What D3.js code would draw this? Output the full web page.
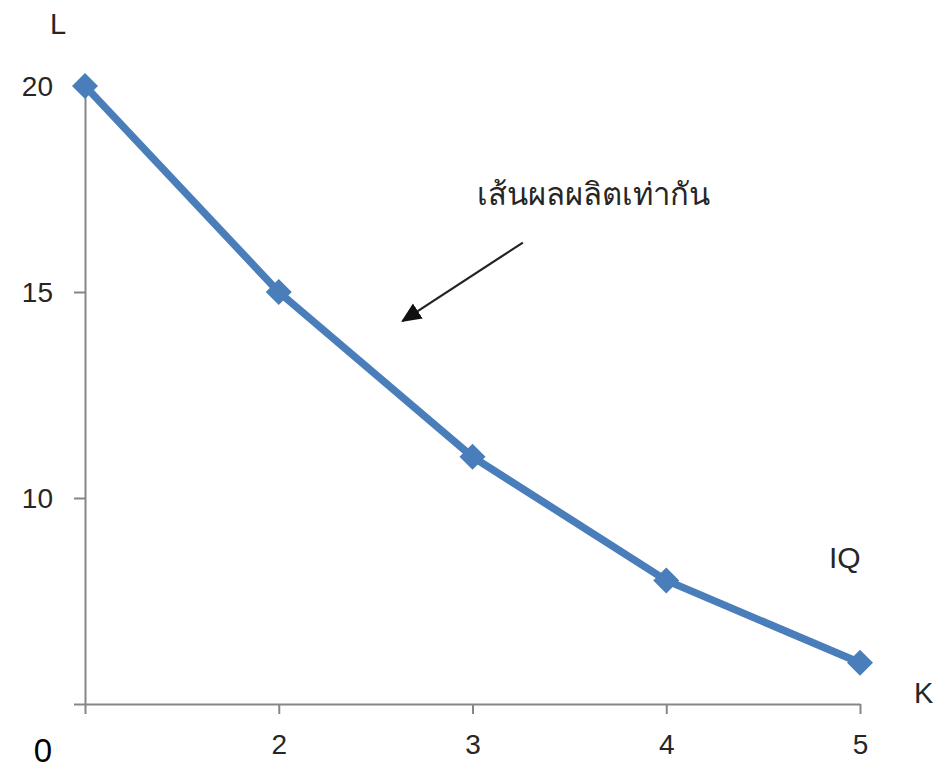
<!DOCTYPE html>
<html>
<head>
<meta charset="utf-8">
<script src="https://cdn.jsdelivr.net/npm/d3@7/dist/d3.min.js"></script>
<style>
  html, body { margin: 0; padding: 0; background: #ffffff; }
  svg { display: block; }
  text { font-family: "Liberation Sans", Arial, sans-serif; }
</style>
</head>
<body>
<svg id="chart" width="941" height="768"></svg>
<script>
// ---- data ----
const categories = [1, 2, 3, 4, 5];          // K
const values = [20, 15, 11, 8, 6];           // L
const xTickLabels = ["", "2", "3", "4", "5"];
const yTicks = [5, 10, 15, 20];
const yTickLabels = ["", "10", "15", "20"];
const curveLabel = "IQ";
const annotationText = "เส้นผลผลิตเท่ากัน";
const annotationArrowFrom = [3.26, 16.2];     // data coords (K, L)
const annotationArrowTo = [2.64, 14.3];
const curveLabelPos = [4.84, 8.3];

const svg = d3.select("#chart");
const x = d3.scaleLinear().domain([1, 5]).range([85, 860]);
const y = d3.scaleLinear().domain([5, 20]).range([704, 86]);

const axisColor = "#868686";
const labelColor = "#262626";

// x axis
const xAxis = svg.append("g").attr("transform", `translate(0,${y(5)})`)
  .call(d3.axisBottom(x).tickValues(categories)
    .tickFormat((d, i) => xTickLabels[i]).tickSize(10).tickSizeOuter(0).tickPadding(20));
// y axis
const yAxis = svg.append("g").attr("transform", `translate(${x(1)},0)`)
  .call(d3.axisLeft(y).tickValues(yTicks)
    .tickFormat((d, i) => yTickLabels[i]).tickSize(11).tickSizeOuter(0).tickPadding(21));

[xAxis, yAxis].forEach(g => {
  g.select(".domain").attr("stroke", axisColor).attr("stroke-width", 2);
  g.selectAll(".tick line").attr("stroke", axisColor).attr("stroke-width", 2);
  g.selectAll(".tick text").attr("fill", labelColor)
    .style("font-size", "28px").style("font-family", "Liberation Sans, Arial, sans-serif");
});
yAxis.selectAll(".tick text").attr("dy", "0.35em");

// series line
const pts = categories.map((c, i) => [c, values[i]]);
svg.append("path")
  .datum(pts)
  .attr("fill", "none")
  .attr("stroke", "#4a7ebb")
  .attr("stroke-width", 7.5)
  .attr("stroke-linejoin", "round")
  .attr("d", d3.line().x(d => x(d[0])).y(d => y(d[1])));

// diamond markers
svg.selectAll(".marker").data(pts).enter().append("path")
  .attr("class", "marker")
  .attr("transform", d => `translate(${x(d[0])},${y(d[1])})`)
  .attr("d", "M0,-13L13,0L0,13L-13,0Z")
  .attr("fill", "#4a7ebb");

// axis titles
svg.append("text").attr("x", 50).attr("y", 34).text("L")
  .attr("fill", labelColor).style("font-size", "29px");
svg.append("text").attr("x", 914).attr("y", 703).text("K")
  .attr("fill", labelColor).style("font-size", "29px");
svg.append("text").attr("x", 43).attr("y", 762).attr("text-anchor", "middle").text("0")
  .attr("fill", "#000").style("font-size", "33px");

// curve label
svg.append("text").attr("x", x(curveLabelPos[0])).attr("y", y(curveLabelPos[1])).text(curveLabel)
  .attr("fill", labelColor).style("font-size", "30px");

// annotation text + arrow
svg.append("defs").append("marker")
  .attr("id", "arrowhead").attr("viewBox", "0 0 10 10")
  .attr("refX", 9).attr("refY", 5)
  .attr("markerWidth", 20).attr("markerHeight", 20)
  .attr("markerUnits", "userSpaceOnUse")
  .attr("orient", "auto")
  .append("path").attr("d", "M0,0.5L10,5L0,9.5Z").attr("fill", "#111");

svg.append("line")
  .attr("x1", x(annotationArrowFrom[0])).attr("y1", y(annotationArrowFrom[1]))
  .attr("x2", x(annotationArrowTo[0])).attr("y2", y(annotationArrowTo[1]))
  .attr("stroke", "#222").attr("stroke-width", 2.2)
  .attr("marker-end", "url(#arrowhead)");

svg.append("text").attr("x", 477).attr("y", 205).text(annotationText)
  .attr("fill", labelColor).style("font-size", "31px")
  .style("font-family", "Tahoma, 'DejaVu Sans', 'Noto Sans', sans-serif");
</script>
</body>
</html>
